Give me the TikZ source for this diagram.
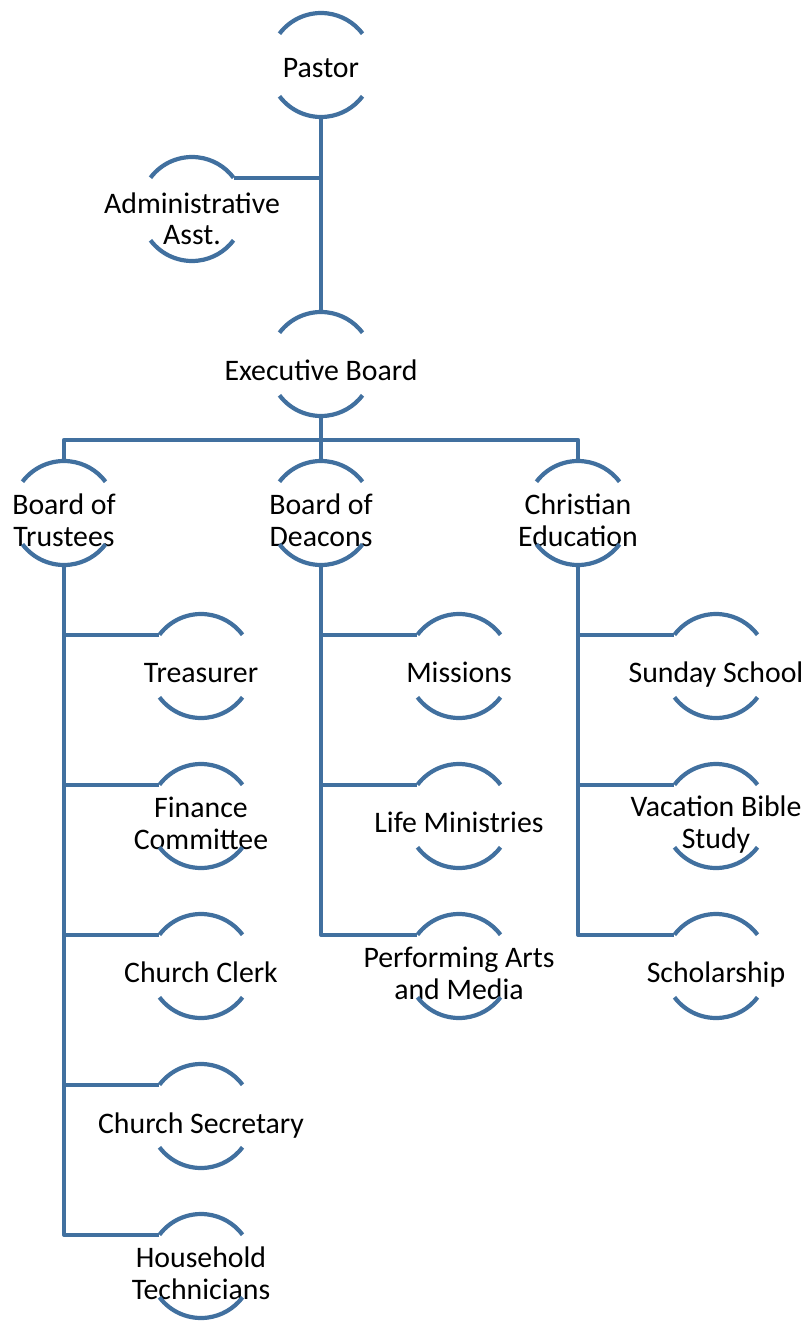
\documentclass[tikz,border=0pt]{standalone}
\usepackage{fontspec}
\setmainfont{Carlito}
\definecolor{lnblue}{HTML}{41709F}
\newcommand\tstrut{\rule[-8pt]{0pt}{30pt}}
\begin{document}
\begin{tikzpicture}[x=1pt,y=1pt,
  hc/.style={circle,minimum size=104pt,inner sep=0pt,outer sep=0pt},
  lbl/.style={inner sep=0pt,outer sep=0pt,align=center,text=black,
    font=\fontsize{29.8}{32}\selectfont},
  ln/.style={draw=lnblue,line width=4.2pt,line join=round}]
\useasboundingbox (0,0) rectangle (804,-1324);
% shape holders
\node[hc] (pastor)    at (321,-65)  {};
\node[hc] (admin)     at (192,-209) {};
\node[hc] (exec)      at (321,-364) {};
\node[hc] (trustees)  at (64,-513)  {};
\node[hc] (deacons)   at (321,-513) {};
\node[hc] (ce)        at (578,-513) {};
\node[hc] (treasurer) at (201,-666) {};
\node[hc] (finance)   at (201,-816) {};
\node[hc] (clerk)     at (201,-966) {};
\node[hc] (secretary) at (201,-1116) {};
\node[hc] (household) at (201,-1266) {};
\node[hc] (missions)  at (459,-666) {};
\node[hc] (life)      at (459,-816) {};
\node[hc] (arts)      at (459,-966) {};
\node[hc] (sunday)    at (716,-666) {};
\node[hc] (vbs)       at (716,-816) {};
\node[hc] (scholar)   at (716,-966) {};
% labels
\node[lbl] (pastorT)    at (321,-71)  {\tstrut Pastor};
\node[lbl] (adminT)     at (192,-222) {\tstrut Administrative\\\tstrut Asst.};
\node[lbl] (execT)      at (321,-373) {\tstrut Executive Board};
\node[lbl] (trusteesT)  at (64,-523)  {\tstrut Board of\\\tstrut Trustees};
\node[lbl] (deaconsT)   at (321,-523) {\tstrut Board of\\\tstrut Deacons};
\node[lbl] (ceT)        at (578,-523) {\tstrut Christian\\\tstrut Education};
\node[lbl] (treasurerT) at (201,-675) {\tstrut Treasurer};
\node[lbl] (financeT)   at (201,-826) {\tstrut Finance\\\tstrut Committee};
\node[lbl] (clerkT)     at (201,-975) {\tstrut Church Clerk};
\node[lbl] (secretaryT) at (201,-1126) {\tstrut Church Secretary};
\node[lbl] (householdT) at (201,-1276) {\tstrut Household\\\tstrut Technicians};
\node[lbl] (missionsT)  at (459,-675) {\tstrut Missions};
\node[lbl] (lifeT)      at (459,-825) {\tstrut Life Ministries};
\node[lbl] (artsT)      at (459,-976) {\tstrut Performing Arts\\\tstrut and Media};
\node[lbl] (sundayT)    at (716,-675) {\tstrut Sunday School};
\node[lbl] (vbsT)       at (716,-825) {\tstrut Vacation Bible\\\tstrut Study};
\node[lbl] (scholarT)   at (716,-975) {\tstrut Scholarship};
% arcs
\foreach \n in {pastor,admin,exec,trustees,deacons,ce,treasurer,finance,clerk,
  secretary,household,missions,life,arts,sunday,vbs,scholar}{
  \draw[ln] (\n.143) arc[start angle=143,end angle=37,radius=52pt];
  \draw[ln] (\n.-143) arc[start angle=-143,end angle=-37,radius=52pt];
}
% connectors
\coordinate (bus) at (321,-440);
\draw[ln] (pastor.south) -- (exec.north);
\draw[ln] (admin.37) -- (admin.37 -| pastor.south);
\draw[ln] (exec.south) -- (bus);
\draw[ln] (trustees.north) |- (bus) -| (ce.north);
\draw[ln] (deacons.north) -- (deacons.north |- bus);
\draw[ln] (trustees.south) |- (household.143);
\foreach \c in {treasurer,finance,clerk,secretary}
  \draw[ln] (trustees.south |- \c.143) -- (\c.143);
\draw[ln] (deacons.south) |- (arts.143);
\foreach \c in {missions,life}
  \draw[ln] (deacons.south |- \c.143) -- (\c.143);
\draw[ln] (ce.south) |- (scholar.143);
\foreach \c in {sunday,vbs}
  \draw[ln] (ce.south |- \c.143) -- (\c.143);
\end{tikzpicture}
\end{document}
